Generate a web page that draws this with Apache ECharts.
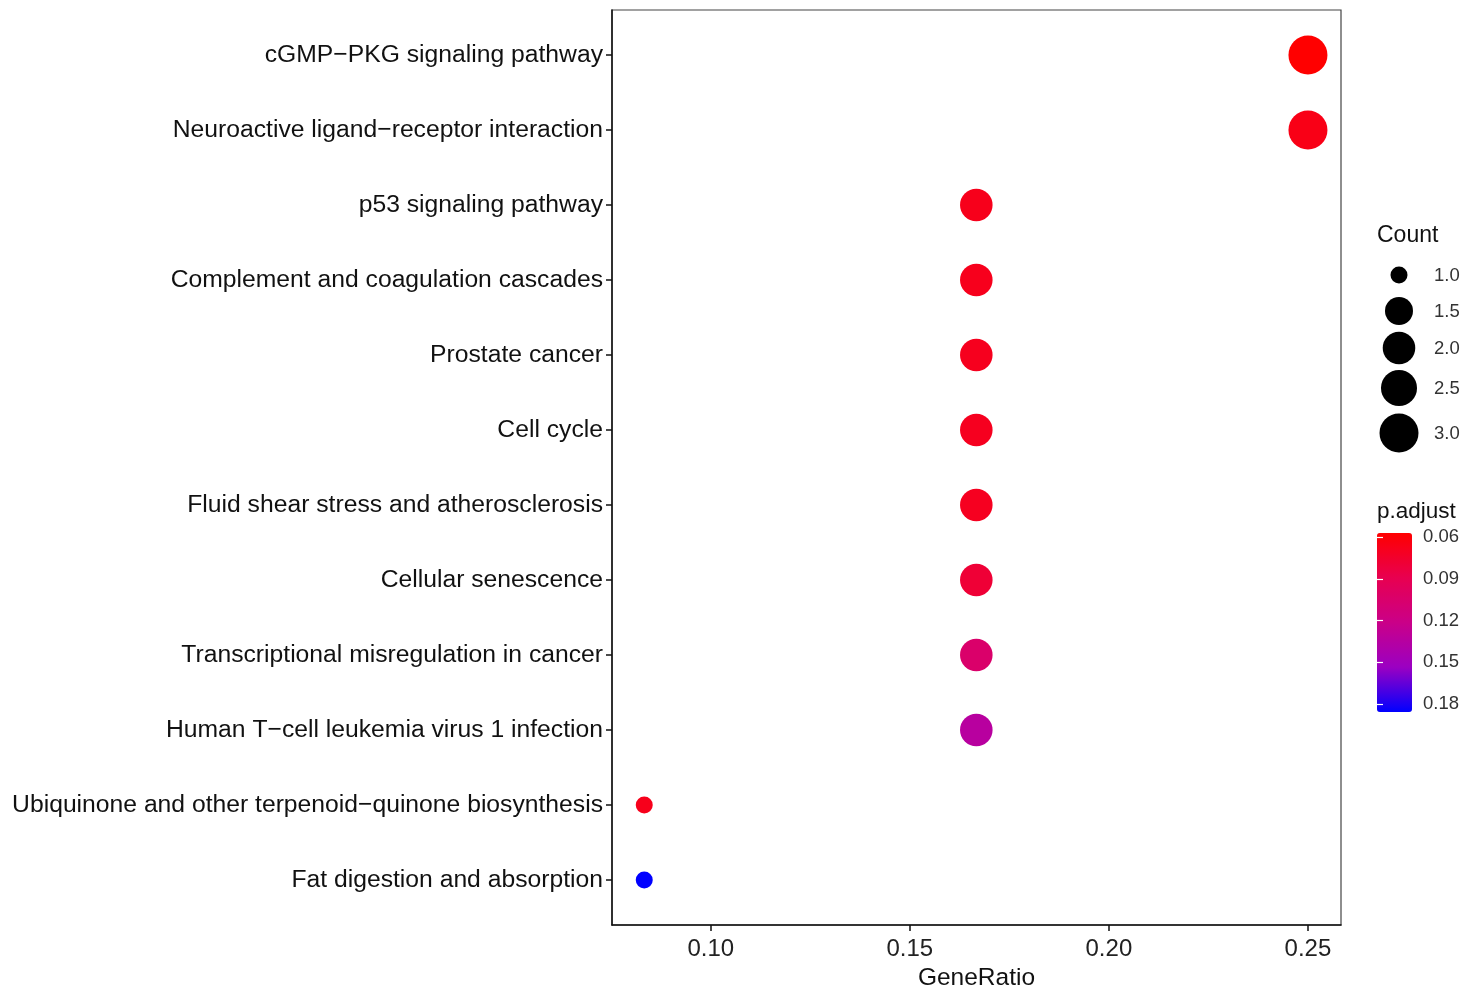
<!DOCTYPE html>
<html>
<head>
<meta charset="utf-8">
<script src="https://cdn.jsdelivr.net/npm/echarts@6/dist/echarts.min.js"></script>
<style>
html,body{margin:0;padding:0;background:#fff;}
#main{width:1480px;height:992px;}
</style>
</head>
<body>
<div id="main"></div>
<script>
// ---- data ----
var categories = [
  "cGMP\u2212PKG signaling pathway",
  "Neuroactive ligand\u2212receptor interaction",
  "p53 signaling pathway",
  "Complement and coagulation cascades",
  "Prostate cancer",
  "Cell cycle",
  "Fluid shear stress and atherosclerosis",
  "Cellular senescence",
  "Transcriptional misregulation in cancer",
  "Human T\u2212cell leukemia virus 1 infection",
  "Ubiquinone and other terpenoid\u2212quinone biosynthesis",
  "Fat digestion and absorption"
];
var geneRatio = [0.25, 0.25, 0.1667, 0.1667, 0.1667, 0.1667, 0.1667, 0.1667, 0.1667, 0.1667, 0.0833, 0.0833];
var counts    = [3, 3, 2, 2, 2, 2, 2, 2, 2, 2, 1, 1];
var pAdjust   = [0.0571, 0.0660, 0.0680, 0.0685, 0.0690, 0.0695, 0.0700, 0.0790, 0.1040, 0.1340, 0.0680, 0.1857];
var xTicks = [0.10, 0.15, 0.20, 0.25];
var colorTicks = [0.06, 0.09, 0.12, 0.15, 0.18];
var countLegend = [1.0, 1.5, 2.0, 2.5, 3.0];

// ---- helpers ----
var cMin = 1, cMax = 3;
function sizeFn(c) { return 17 + 22 * Math.sqrt((c - cMin) / (cMax - cMin)); }
var pMin = Math.min.apply(null, pAdjust), pMax = Math.max.apply(null, pAdjust);

var data = categories.map(function (name, i) {
  return [geneRatio[i], i, pAdjust[i], counts[i]];
});

var font = "'Liberation Sans', Arial, sans-serif";

// count legend graphics
var legendCenters = [275, 311, 348, 388, 433];
var graphics = [{
  type: 'text', left: 1377, top: 224,
  style: { text: 'Count', font: '23px ' + font, fill: '#111' }
}, {
  type: 'text', left: 1377, top: 500,
  style: { text: 'p.adjust', font: '22.5px ' + font, fill: '#111' }
}];
countLegend.forEach(function (c, i) {
  graphics.push({
    type: 'circle', shape: { cx: 1399, cy: legendCenters[i], r: sizeFn(c) / 2 },
    style: { fill: '#000' }
  });
  graphics.push({
    type: 'text', x: 1434, y: legendCenters[i] + 1,
    style: { text: c.toFixed(1), font: '18.5px ' + font, fill: '#333', verticalAlign: 'middle' }
  });
});

var chart = echarts.init(document.getElementById('main'));
chart.setOption({
  backgroundColor: '#fff',
  animation: false,
  textStyle: { fontFamily: font },
  grid: [
    { left: 612, right: 139, top: 10, bottom: 67, show: true, borderColor: '#444', borderWidth: 1.2, containLabel: false, outerBoundsMode: 'none' },
    { left: 1377, top: 533, width: 35, height: 179, show: false, outerBoundsMode: 'none' }
  ],
  xAxis: [{
    type: 'value', gridIndex: 0, min: 0.0752, max: 0.2583,
    name: 'GeneRatio', nameLocation: 'middle', nameGap: 40,
    nameTextStyle: { fontSize: 24.5, color: '#111', fontFamily: font },
    axisLine: { show: true, onZero: false, lineStyle: { color: '#111', width: 1.5 } },
    axisTick: { show: true, length: 6, lineStyle: { color: '#111', width: 1.5 }, customValues: xTicks },
    axisLabel: { fontSize: 24, color: '#222', margin: 12, customValues: xTicks,
      formatter: function (v) { return v.toFixed(2); } },
    splitLine: { show: false }
  }, {
    type: 'value', gridIndex: 1, show: false, min: 0, max: 1
  }],
  yAxis: [{
    type: 'value', gridIndex: 0, min: -0.6, max: 11.6, inverse: true,
    axisLine: { show: true, onZero: false, lineStyle: { color: '#111', width: 1.5 } },
    axisTick: { show: true, length: 6, lineStyle: { color: '#111', width: 1.5 }, customValues: categories.map(function (c, i) { return i; }) },
    axisLabel: { fontSize: 24.7, color: '#111', margin: 9, customValues: categories.map(function (c, i) { return i; }),
      formatter: function (v) { return categories[Math.round(v)] || ''; } },
    splitLine: { show: false }
  }, {
    type: 'value', gridIndex: 1, min: pMin, max: pMax, inverse: true, position: 'right', z: 10,
    axisLine: { show: false },
    axisTick: { show: true, inside: true, length: 6, lineStyle: { color: '#fff', width: 1.2 }, customValues: colorTicks },
    axisLabel: { fontSize: 18.5, color: '#333', margin: 11, customValues: colorTicks,
      formatter: function (v) { return v.toFixed(2); } },
    splitLine: { show: false }
  }, {
    type: 'value', gridIndex: 1, min: pMin, max: pMax, inverse: true, position: 'left', z: 10,
    axisLine: { show: false },
    axisTick: { show: true, inside: true, length: 6, lineStyle: { color: '#fff', width: 1.2 }, customValues: colorTicks },
    axisLabel: { show: false },
    splitLine: { show: false }
  }],
  visualMap: [{
    type: 'continuous', seriesIndex: 0, dimension: 2,
    min: pMin, max: pMax, inverse: true,
    left: 1377, top: 533, itemWidth: 35, itemHeight: 179, padding: 0,
    calculable: false, hoverLink: false, text: null, showLabel: false,
    inRange: { color: ['#FF0000', '#E80050', '#CA0088', '#9B00C2', '#0000FF'] },
    z: 4
  }],
  graphic: graphics,
  series: [{
    type: 'scatter', xAxisIndex: 0, yAxisIndex: 0,
    data: data,
    symbolSize: function (v) { return sizeFn(v[3]); },
    itemStyle: { opacity: 1 },
    emphasis: { disabled: true }
  }]
});
</script>
</body>
</html>
